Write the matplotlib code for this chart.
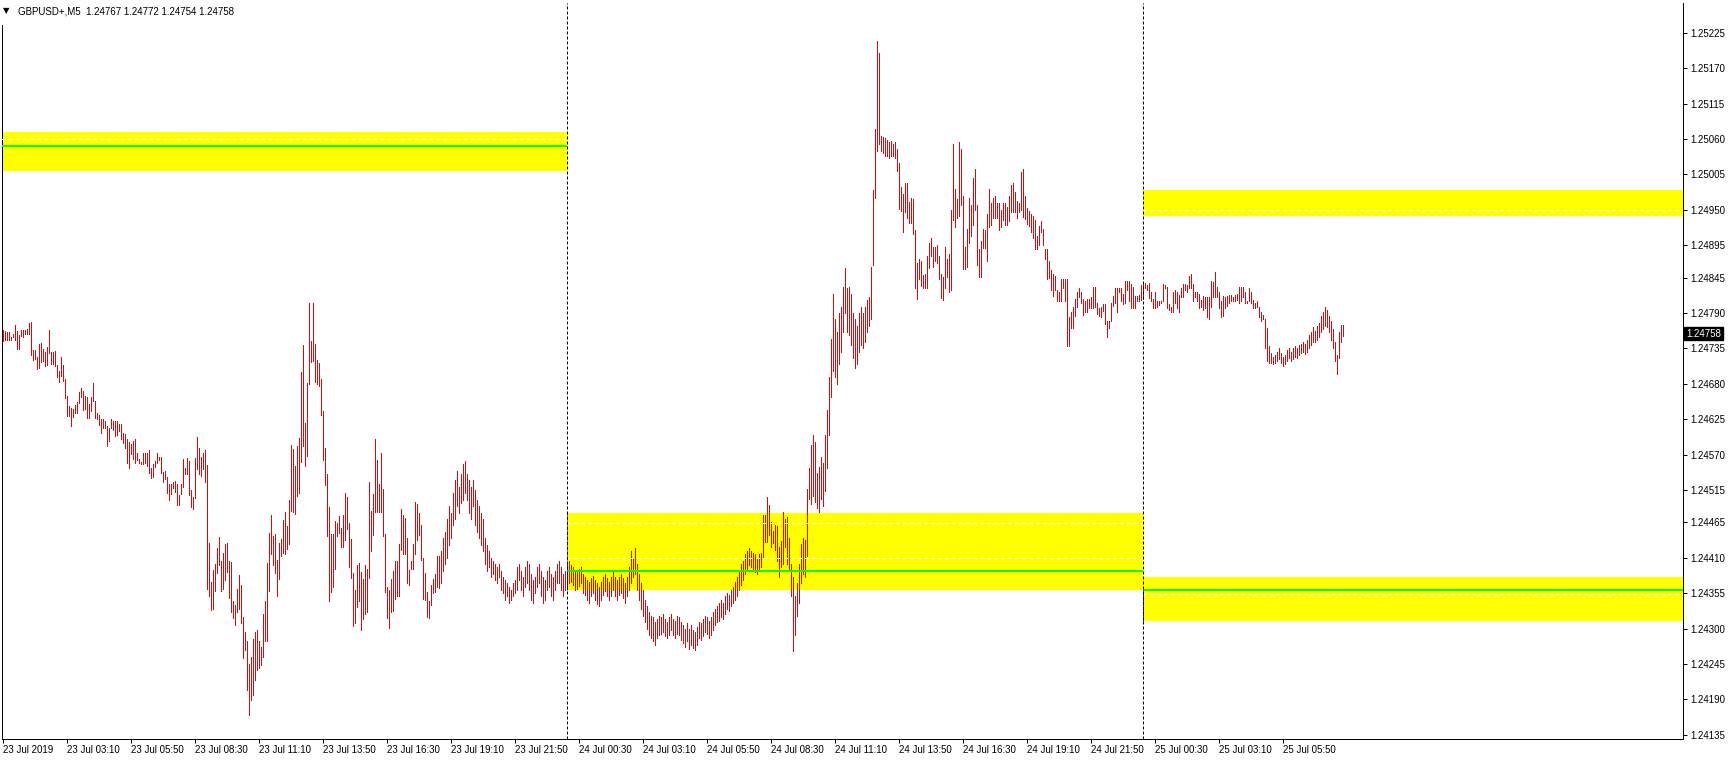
import numpy as np
import matplotlib
matplotlib.use("Agg")
import matplotlib.pyplot as plt
from matplotlib.patches import Rectangle
from matplotlib.transforms import blended_transform_factory

plt.rcParams['lines.scale_dashes'] = False
FONT = ['Liberation Sans', 'DejaVu Sans']

# ---------------- data (price points, 1 point = 0.00001) ----------------
# 23 Jul bars (index 0..281)
high_23 = [
 124763,124762,124761,124760,124753,124757,124771,124762,124755,124763,
 124763,124764,124765,124774,124776,124732,124732,124721,124742,124743,
 124734,124730,124737,124763,124730,124730,124731,124709,124700,124721,
 124709,124687,124661,124645,124643,124641,124647,124652,124667,124674,
 124669,124661,124659,124649,124660,124682,124653,124634,124631,124625,
 124625,124622,124615,124612,124626,124623,124622,124622,124618,124618,
 124603,124602,124594,124590,124586,124591,124594,124573,124563,124559,
 124573,124573,124573,124577,124549,124556,124560,124573,124567,124566,
 124543,124545,124535,124524,124524,124528,124529,124524,124507,124524,
 124563,124549,124565,124560,124515,124504,124565,124597,124580,124566,
 124573,124577,124554,124433,124372,124391,124400,124425,124442,124405,
 124417,124431,124433,124405,124403,124342,124336,124361,124383,124367,
 124318,124294,124280,124245,124256,124284,124295,124297,124281,124272,
 124322,124342,124402,124448,124476,124444,124447,124406,124433,124439,
 124469,124481,124459,124500,124585,124579,124552,124583,124596,124698,
 124740,124619,124681,124806,124746,124806,124742,124717,124712,124688,
 124638,124580,124540,124489,124447,124447,124467,124464,124475,124456,
 124476,124510,124504,124464,124439,124387,124360,124399,124401,124388,
 124377,124398,124393,124528,124483,124509,124595,124561,124525,124572,
 124516,124447,124365,124360,124377,124390,124405,124405,124432,124485,
 124477,124471,124440,124391,124405,124432,124497,124494,124480,124460,
 124409,124387,124357,124343,124368,124377,124385,124413,124413,124420,
 124440,124450,124470,124490,124480,124510,124530,124545,124520,124540,
 124555,124560,124540,124530,124520,124530,124515,124500,124490,124480,
 124470,124440,124430,124420,124410,124405,124400,124395,124400,124390,
 124380,124375,124370,124365,124360,124370,124375,124395,124400,124390,
 124380,124395,124405,124400,124385,124375,124380,124395,124400,124390,
 124380,124375,124390,124395,124385,124380,124390,124400,124405,124395,
 124385,124390]
low_23 = [
 124747,124748,124748,124748,124748,124752,124748,124734,124734,124754,
 124753,124757,124758,124758,124725,124717,124719,124703,124705,124714,
 124715,124708,124709,124728,124710,124711,124707,124690,124683,124692,
 124684,124658,124630,124630,124615,124629,124634,124635,124650,124659,
 124640,124641,124627,124627,124638,124653,124627,124625,124616,124604,
 124611,124611,124584,124591,124611,124608,124599,124600,124607,124594,
 124588,124581,124557,124550,124571,124563,124557,124561,124557,124555,
 124556,124557,124553,124541,124533,124535,124551,124557,124562,124542,
 124527,124532,124511,124500,124509,124518,124512,124492,124492,124509,
 124520,124540,124540,124508,124489,124486,124503,124548,124540,124537,
 124547,124527,124362,124351,124329,124331,124359,124387,124399,124359,
 124362,124376,124388,124348,124326,124317,124306,124326,124331,124308,
 124255,124267,124205,124166,124189,124197,124220,124236,124239,124244,
 124256,124280,124280,124359,124416,124399,124387,124351,124377,124412,
 124418,124415,124424,124432,124483,124481,124478,124506,124511,124559,
 124584,124553,124568,124680,124714,124716,124683,124679,124676,124632,
 124562,124523,124443,124342,124356,124365,124393,124444,124449,124427,
 124427,124438,124455,124395,124379,124304,124309,124334,124342,124297,
 124315,124323,124326,124379,124421,124446,124481,124481,124481,124481,
 124444,124356,124317,124301,124326,124328,124346,124350,124351,124422,
 124415,124415,124371,124368,124393,124393,124416,124438,124446,124407,
 124346,124345,124318,124317,124337,124355,124356,124365,124363,124370,
 124390,124400,124410,124430,124440,124460,124470,124490,124480,124495,
 124500,124510,124500,124480,124470,124490,124460,124450,124440,124430,
 124420,124400,124390,124395,124380,124385,124375,124370,124380,124360,
 124355,124345,124350,124340,124345,124350,124355,124360,124375,124360,
 124350,124365,124370,124360,124345,124340,124355,124365,124370,124350,
 124340,124345,124360,124365,124350,124345,124360,124370,124370,124360,
 124350,124360]

# 24 Jul bars (index 282..569)
high_24 = [
 124400,124405,124398,124395,124390,124388,124392,124395,124385,124380,
 124375,124372,124378,124382,124375,124370,124365,124372,124380,124385,
 124378,124372,124380,124388,124380,124375,124380,124385,124378,124370,
 124380,124395,124420,124410,124425,124400,124385,124370,124360,124345,
 124335,124325,124320,124318,124310,124315,124320,124318,124322,124315,
 124310,124318,124322,124315,124312,124320,124318,124310,124305,124300,
 124308,124300,124305,124298,124295,124302,124310,124308,124315,124320,
 124318,124312,124318,124325,124330,124335,124340,124345,124340,124350,
 124355,124352,124360,124365,124372,124380,124390,124400,124405,124415,
 124420,124425,124420,124418,124416,124410,124415,124418,124477,124476,
 124505,124492,124466,124451,124460,124459,124427,124436,124481,124470,
 124473,124441,124400,124380,124350,124370,124400,124431,124441,124437,
 124517,124549,124585,124600,124590,124541,124551,124566,124557,124600,
 124640,124690,124750,124820,124780,124760,124790,124800,124830,124860,
 124829,124830,124820,124790,124780,124770,124790,124800,124790,124800,
 124810,124815,124861,124981,125076,125212,125194,125065,125063,125062,
 125059,125056,125057,125052,125056,125045,125023,124986,124975,124992,
 124992,124963,124969,124967,124919,124868,124874,124871,124849,124851,
 124878,124898,124906,124893,124893,124895,124879,124851,124846,124893,
 124873,124882,124950,125053,124983,124967,125055,125044,124972,124893,
 124921,124969,124958,124999,125013,124958,124890,124902,124921,124919,
 124944,124982,124961,124969,124971,124961,124961,124950,124961,124961,
 124954,124971,124989,124992,124978,124964,124961,125009,125013,124971,
 124953,124948,124944,124941,124934,124910,124925,124932,124920,124889,
 124889,124871,124856,124851,124847,124826,124822,124843,124842,124843,
 124843,124783,124792,124799,124812,124822,124829,124822,124811,124809,
 124812,124812,124815,124830,124830,124806,124798,124800,124804,124804,
 124778,124778,124805,124817,124828,124829,124829,124828,124820,124839,
 124839,124839,124835,124831,124817,124817,124818,124834]
low_24 = [
 124365,124370,124372,124368,124360,124362,124366,124370,124355,124352,
 124345,124340,124350,124355,124345,124338,124335,124345,124352,124358,
 124350,124345,124350,124360,124350,124345,124352,124355,124348,124340,
 124350,124360,124370,124380,124385,124360,124345,124330,124320,124310,
 124300,124290,124285,124280,124275,124285,124290,124292,124295,124288,
 124285,124290,124298,124290,124285,124292,124290,124282,124278,124272,
 124280,124268,124275,124270,124266,124275,124285,124282,124288,124295,
 124292,124285,124290,124298,124305,124310,124312,124318,124315,124322,
 124330,124328,124335,124340,124345,124350,124360,124368,124375,124385,
 124392,124398,124395,124390,124388,124385,124390,124395,124411,124434,
 124434,124446,124427,124433,124422,124405,124380,124395,124400,124426,
 124400,124390,124350,124265,124290,124320,124340,124370,124385,124380,
 124413,124501,124494,124506,124497,124487,124481,124501,124491,124514,
 124549,124600,124660,124700,124690,124680,124710,124730,124760,124790,
 124760,124755,124740,124720,124705,124710,124730,124740,124735,124745,
 124760,124770,124780,124864,124969,125042,125053,125041,125039,125034,
 125033,125031,125033,125033,125031,125011,124952,124949,124916,124947,
 124938,124929,124929,124913,124828,124812,124842,124832,124829,124828,
 124828,124860,124878,124862,124870,124867,124843,124813,124810,124828,
 124846,124823,124826,124935,124924,124937,124940,124957,124859,124859,
 124862,124898,124909,124927,124950,124864,124846,124846,124891,124891,
 124870,124923,124926,124937,124937,124937,124919,124924,124935,124927,
 124926,124932,124946,124947,124946,124937,124946,124950,124939,124936,
 124928,124925,124916,124907,124890,124890,124896,124915,124895,124874,
 124843,124845,124825,124817,124826,124808,124808,124809,124829,124808,
 124738,124738,124766,124766,124786,124799,124814,124806,124787,124791,
 124791,124797,124797,124797,124799,124789,124786,124784,124793,124773,
 124753,124766,124778,124801,124805,124791,124823,124809,124804,124805,
 124825,124809,124797,124797,124797,124808,124809,124810]

# 25 Jul bars (index 570..670)
high_25 = [
 124836,124837,124834,124837,124822,124811,124822,124809,124809,124809,
 124835,124833,124831,124804,124800,124822,124826,124822,124818,124828,
 124835,124835,124834,124847,124851,124835,124823,124823,124820,124810,
 124817,124815,124815,124815,124839,124838,124854,124831,124823,124808,
 124817,124815,124817,124818,124818,124814,124818,124820,124830,124831,
 124830,124822,124809,124829,124822,124810,124806,124808,124800,124792,
 124787,124781,124767,124738,124728,124722,124725,124730,124735,124728,
 124722,124725,124732,124735,124730,124735,124738,124735,124740,124742,
 124745,124742,124748,124755,124760,124768,124762,124770,124775,124785,
 124792,124800,124795,124785,124778,124765,124745,124725,124760,124772,
 124772]
low_25 = [
 124812,124828,124826,124813,124809,124797,124798,124800,124802,124805,
 124808,124828,124798,124795,124792,124791,124806,124797,124791,124815,
 124815,124826,124822,124828,124828,124808,124814,124809,124798,124800,
 124794,124797,124784,124780,124800,124815,124815,124815,124797,124784,
 124786,124797,124801,124805,124808,124808,124808,124810,124806,124809,
 124815,124805,124805,124809,124805,124797,124798,124800,124784,124778,
 124780,124735,124715,124712,124712,124710,124712,124716,124718,124712,
 124708,124710,124715,124720,124716,124718,124722,124720,124725,124728,
 124730,124727,124730,124735,124740,124745,124745,124748,124752,124760,
 124765,124770,124768,124760,124748,124735,124715,124695,124720,124745,
 124754]

day_separators = [282, 570]
x_labels = ["23 Jul 2019", "23 Jul 03:10", "23 Jul 05:50", "23 Jul 08:30", "23 Jul 11:10",
            "23 Jul 13:50", "23 Jul 16:30", "23 Jul 19:10", "23 Jul 21:50", "24 Jul 00:30",
            "24 Jul 03:10", "24 Jul 05:50", "24 Jul 08:30", "24 Jul 11:10", "24 Jul 13:50",
            "24 Jul 16:30", "24 Jul 19:10", "24 Jul 21:50", "25 Jul 00:30", "25 Jul 03:10",
            "25 Jul 05:50"]
y_ticks = [1.25225, 1.25170, 1.25115, 1.25060, 1.25005, 1.24950, 1.24895, 1.24845, 1.24790,
           1.24735, 1.24680, 1.24625, 1.24570, 1.24515, 1.24465, 1.24410, 1.24355, 1.24300,
           1.24245, 1.24190, 1.24135]
# zones: (start bar, end bar, top, bottom, green level or None, dashed white levels)
zones = [
    (-0.5, 282, 1.25071, 1.25010, 1.25049, [1.25060]),
    (282, 570, 1.24479, 1.24360, 1.24390, [1.24464, 1.24409]),
    (570, 840, 1.24981, 1.24941, None, [1.24950]),
    (570, 840, 1.24380, 1.24312, 1.24360, [1.24354]),
]
# short blue dashed vertical marks at the zone edges: (bar, bottom, top)
blue_marks = [(282, 1.24360, 1.24479), (570, 1.24312, 1.24360)]
last_price = 1.24758
header = "GBPUSD+,M5  1.24767 1.24772 1.24754 1.24758"

highs = np.array(high_23 + high_24 + high_25) / 1e5
lows = np.array(low_23 + low_24 + low_25) / 1e5
x = np.arange(len(highs))

# ---------------- figure ----------------
W, H = 1729, 760
fig = plt.figure(figsize=(W / 100, H / 100), dpi=100)
ax = fig.add_axes([2 / W, 21 / H, 1681 / W, 736.5 / H])
ax.set_xlim(-0.5, 840)
ax.set_ylim(1.241285, 1.25272)

px = 0.72  # one pixel in points

for (x0, x1, top, bot, green, dashed) in zones:
    ax.add_patch(Rectangle((x0, bot), x1 - x0, top - bot, facecolor='#FFFF00',
                           edgecolor='none', zorder=1))

ax.vlines(x, lows, highs, colors='#F00000', linewidth=px, antialiased=False, zorder=3)

for (x0, x1, top, bot, green, dashed) in zones:
    if green is not None:
        ax.hlines(green, x0, x1, colors='#00FF00', linewidth=2 * px, zorder=4)
    for d in dashed:
        ax.hlines(d, x0, x1, colors='white', linewidth=px,
                  linestyles=(0, (4 * px, 3 * px)), antialiased=False, zorder=4)

for s in day_separators:
    ax.axvline(s, color='black', linewidth=px, linestyle=(0, (3 * px, 2 * px)), zorder=5)
for (b, y0, y1) in blue_marks:
    ax.vlines(b, y0, y1, colors='#0000FF', linewidth=px, linestyles=(0, (3 * px, 2 * px)), zorder=6)

# axes styling
ax.spines['top'].set_visible(False)
for sp in ['left', 'right', 'bottom']:
    ax.spines[sp].set_linewidth(px)
    ax.spines[sp].set_color('black')
ax.spines['left'].set_bounds(1.241285, 1.25237)

ax.yaxis.tick_right()
ax.set_yticks(y_ticks)
ax.set_yticklabels([f"{v:.5f}" for v in y_ticks], fontfamily=FONT, fontsize=7)
ax.tick_params(axis='y', direction='out', length=3, width=px, pad=2, colors='black')

ax.set_xticks(np.arange(0, 32 * len(x_labels), 32))
ax.set_xticklabels(x_labels, fontfamily=FONT, fontsize=7)
for t in ax.get_xticklabels():
    t.set_ha('left')
ax.tick_params(axis='x', direction='out', length=3, width=px, pad=1.5, colors='black')

# current price label
trans = blended_transform_factory(ax.transAxes, ax.transData)
ax.text(1.0 + 3 / 1681, last_price, f"{last_price:.5f}", transform=trans, color='white',
        fontfamily=FONT, fontsize=7, ha='left', va='center', zorder=10, clip_on=False,
        bbox=dict(boxstyle='square,pad=0.18', facecolor='black', edgecolor='black'))

# header
fig.text(3 / W, 1 - 11 / H, "\u25BC", fontsize=6, family=['DejaVu Sans'], va='center', ha='left')
fig.text(18 / W, 1 - 11 / H, header, fontsize=7, family=FONT, va='center', ha='left')

fig.savefig("out.png", dpi=100, facecolor='white')
